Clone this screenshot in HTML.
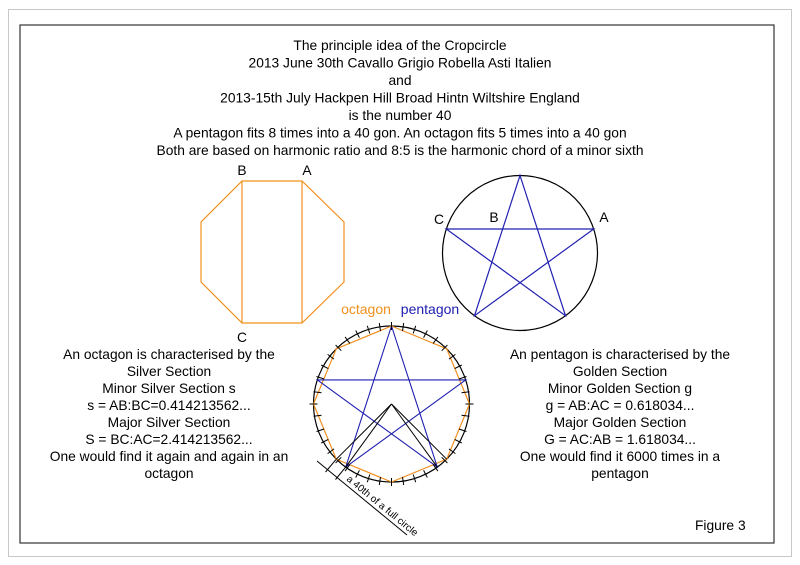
<!DOCTYPE html>
<html><head><meta charset="utf-8"><style>
html,body{margin:0;padding:0;background:#fff;}
svg{display:block;}
text{font-family:"Liberation Sans",Arial,sans-serif;font-size:13.8px;fill:#000;}
</style></head><body>
<svg width="800" height="565" viewBox="0 0 800 565" xmlns="http://www.w3.org/2000/svg">
<rect x="8.5" y="9.5" width="783" height="547" fill="none" stroke="#c8c8c8" stroke-width="1"/>
<rect x="20" y="25" width="754" height="518" fill="none" stroke="#333" stroke-width="1.2"/>
<g text-anchor="middle">
<text x="400" y="50">The principle idea of the Cropcircle</text>
<text x="400" y="67.5">2013 June 30th Cavallo Grigio Robella Asti Italien</text>
<text x="400" y="85">and</text>
<text x="400" y="102.5">2013-15th July Hackpen Hill Broad Hintn Wiltshire England</text>
<text x="400" y="120">is the number 40</text>
<text x="400" y="137.5">A pentagon fits 8 times into a 40 gon. An octagon fits 5 times into a 40 gon</text>
<text x="400" y="155">Both are based on harmonic ratio  and 8:5 is the harmonic chord of a minor sixth</text>
</g>
<g fill="none" stroke="#f0901e" stroke-width="1.2">
<polygon points="242,181 302,181 344,222 344,282 302,323 242,323 201,282 201,222"/>
<line x1="242" y1="181" x2="242" y2="323"/>
<line x1="302" y1="181" x2="302" y2="323"/>
</g>
<text x="242" y="175" text-anchor="middle">B</text>
<text x="307" y="175" text-anchor="middle">A</text>
<text x="242" y="342" text-anchor="middle">C</text>
<circle cx="520" cy="253" r="77.5" fill="none" stroke="#000" stroke-width="1.2"/>
<polygon points="520,175.5 565.5,315.7 446.3,229 593.7,229 474.5,315.7" fill="none" stroke="#2020b0" stroke-width="1.2"/>
<text x="439" y="224" text-anchor="middle">C</text>
<text x="494" y="222" text-anchor="middle">B</text>
<text x="604" y="222" text-anchor="middle">A</text>
<text x="366" y="314" text-anchor="middle" style="fill:#f0901e;font-size:14px">octagon</text>
<text x="430" y="314" text-anchor="middle" style="fill:#2020b0;font-size:14px">pentagon</text>
<circle cx="391.5" cy="404" r="78" fill="none" stroke="#000" stroke-width="1.2"/>
<polygon points="391.5,326 446.7,348.8 469.5,404 446.7,459.2 391.5,482 336.3,459.2 313.5,404 336.3,348.8" fill="none" stroke="#f0901e" stroke-width="1.2"/>
<polygon points="391.5,326 437.3,467.1 317.3,379.9 465.7,379.9 345.7,467.1" fill="none" stroke="#2020b0" stroke-width="1.1"/>
<g stroke="#000" stroke-width="1" fill="none">
<line x1="391.5" y1="404" x2="345.7" y2="467.1"/>
<line x1="391.5" y1="404" x2="336.3" y2="459.2"/>
<line x1="391.5" y1="404" x2="437.3" y2="467.1"/>
<line x1="391.5" y1="404" x2="446.7" y2="459.2"/>
<line x1="336.3" y1="459.2" x2="325.5" y2="472"/>
<line x1="345.7" y1="467.1" x2="335.5" y2="479.5"/>
<line x1="317" y1="461" x2="407" y2="535"/>
</g>
<text transform="translate(346,480) rotate(39.5)" style="font-size:10px">a 40th of a full circle</text>
<g text-anchor="middle">
<text x="169" y="359">An octagon is characterised by the</text>
<text x="169" y="376">Silver Section</text>
<text x="169" y="393">Minor Silver Section s</text>
<text x="169" y="410">s = AB:BC=0.414213562...</text>
<text x="169" y="427">Major Silver Section</text>
<text x="169" y="444">S = BC:AC=2.414213562...</text>
<text x="169" y="461">One would find it again and again in an</text>
<text x="169" y="478">octagon</text>
<text x="620" y="359">An pentagon is characterised by the</text>
<text x="620" y="376">Golden Section</text>
<text x="620" y="393">Minor Golden Section g</text>
<text x="620" y="410">g = AB:AC = 0.618034...</text>
<text x="620" y="427">Major Golden Section</text>
<text x="620" y="444">G = AC:AB = 1.618034...</text>
<text x="620" y="461">One would find it 6000 times in a</text>
<text x="620" y="478">pentagon</text>
</g>
<text x="695" y="530">Figure 3</text>
<g stroke="#000" stroke-width="1">
<line x1="391.5" y1="322" x2="391.5" y2="330"/>
<line x1="403.7" y1="323.0" x2="402.5" y2="331.0"/>
<line x1="415.7" y1="325.8" x2="413.2" y2="333.5"/>
<line x1="427.3" y1="330.5" x2="423.6" y2="337.6"/>
<line x1="437.9" y1="336.9" x2="433.2" y2="343.4"/>
<line x1="447.4" y1="345.0" x2="441.7" y2="350.7"/>
<line x1="455.4" y1="354.4" x2="449.0" y2="359.1"/>
<line x1="461.8" y1="365.0" x2="454.7" y2="368.6"/>
<line x1="466.5" y1="376.5" x2="458.9" y2="379.0"/>
<line x1="469.5" y1="391.8" x2="461.5" y2="392.8"/>
<line x1="473.5" y1="404" x2="465.5" y2="404"/>
<line x1="469.5" y1="416.2" x2="461.5" y2="415.2"/>
<line x1="466.5" y1="431.5" x2="458.9" y2="429.0"/>
<line x1="461.8" y1="443.0" x2="454.7" y2="439.4"/>
<line x1="455.4" y1="453.6" x2="449.0" y2="448.9"/>
<line x1="447.4" y1="463.0" x2="441.7" y2="457.3"/>
<line x1="437.9" y1="471.1" x2="433.2" y2="464.6"/>
<line x1="427.3" y1="477.5" x2="423.6" y2="470.4"/>
<line x1="415.7" y1="482.2" x2="413.2" y2="474.5"/>
<line x1="403.7" y1="485.0" x2="402.5" y2="477.0"/>
<line x1="391.5" y1="486" x2="391.5" y2="478"/>
<line x1="379.3" y1="485.0" x2="380.5" y2="477.0"/>
<line x1="367.3" y1="482.2" x2="369.8" y2="474.5"/>
<line x1="355.7" y1="477.5" x2="359.4" y2="470.4"/>
<line x1="345.1" y1="471.1" x2="349.8" y2="464.6"/>
<line x1="335.6" y1="463.0" x2="341.3" y2="457.3"/>
<line x1="327.6" y1="453.6" x2="334.0" y2="448.9"/>
<line x1="321.2" y1="443.0" x2="328.3" y2="439.4"/>
<line x1="316.5" y1="431.5" x2="324.1" y2="429.0"/>
<line x1="313.5" y1="416.2" x2="321.5" y2="415.2"/>
<line x1="309.5" y1="404" x2="317.5" y2="404"/>
<line x1="313.5" y1="391.8" x2="321.5" y2="392.8"/>
<line x1="316.5" y1="376.5" x2="324.1" y2="379.0"/>
<line x1="321.2" y1="365.0" x2="328.3" y2="368.6"/>
<line x1="327.6" y1="354.4" x2="334.0" y2="359.1"/>
<line x1="335.6" y1="345.0" x2="341.3" y2="350.7"/>
<line x1="345.1" y1="336.9" x2="349.8" y2="343.4"/>
<line x1="355.7" y1="330.5" x2="359.4" y2="337.6"/>
<line x1="367.3" y1="325.8" x2="369.8" y2="333.5"/>
<line x1="379.3" y1="323.0" x2="380.5" y2="331.0"/>
</g>
</svg>
</body></html>
